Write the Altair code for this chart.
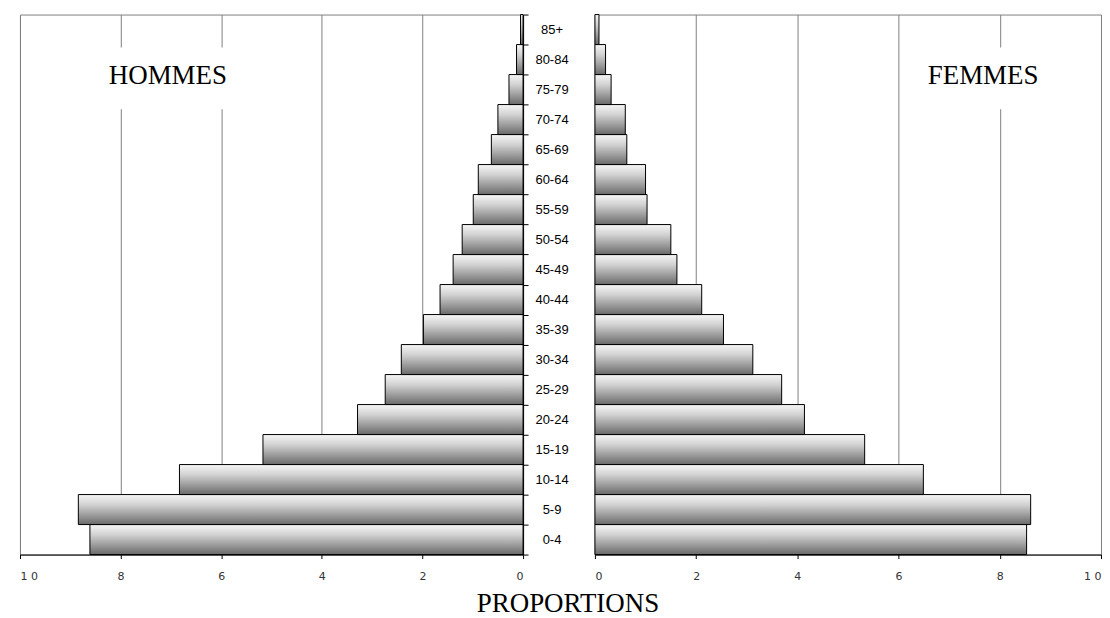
import altair as alt
import pandas as pd

ages = ["0-4", "5-9", "10-14", "15-19", "20-24", "25-29", "30-34", "35-39", "40-44",
        "45-49", "50-54", "55-59", "60-64", "65-69", "70-74", "75-79", "80-84", "85+"]
hommes = [8.61, 8.84, 6.83, 5.17, 3.29, 2.74, 2.42, 1.98, 1.65,
          1.39, 1.21, 0.99, 0.89, 0.63, 0.50, 0.28, 0.13, 0.05]
femmes = [8.53, 8.61, 6.49, 5.33, 4.14, 3.69, 3.12, 2.54, 2.11,
          1.62, 1.50, 1.03, 1.00, 0.63, 0.60, 0.32, 0.21, 0.08]
ticks = [0, 2, 4, 6, 8, 10]

df = pd.DataFrame({"age": ages, "hommes": hommes, "femmes": femmes})
order = ages[::-1]

grad = alt.Gradient(
    gradient="linear",
    stops=[alt.GradientStop(color="#f7f7f7", offset=0),
           alt.GradientStop(color="#d0d0d0", offset=0.35),
           alt.GradientStop(color="#6a6a6a", offset=1)],
    x1=0, x2=0, y1=0, y2=1,
)

xaxis = dict(values=ticks, grid=True, gridColor="#808080", gridWidth=1,
             domainColor="black", tickColor="black", tickSize=4,
             labelColor="#333333", labelFont="DejaVu Sans", labelFontSize=11,
             labelPadding=12, title=None,
             labelExpr="datum.value == 10 ? '1 0' : datum.label")

yscale = alt.Scale(paddingInner=0, paddingOuter=0)

W_L, W_M, W_R, H = 504, 72, 507, 541

left_bars = alt.Chart(df).mark_bar(fill=grad, stroke="black", strokeWidth=1).encode(
    x=alt.X("hommes:Q", scale=alt.Scale(domain=[0, 10], reverse=True, nice=False),
            axis=alt.Axis(**xaxis)),
    y=alt.Y("age:N", sort=order, scale=yscale,
            axis=alt.Axis(orient="right", labels=False, ticks=True, tickSize=5,
                          tickColor="black", domainColor="black", title=None,
                          tickBand="extent", grid=False)),
)
lab_h = pd.DataFrame({"t": ["HOMMES"], "x": [7.06], "x1": [8.6], "x2": [5.75]})
left_box = alt.Chart(lab_h).mark_rect(fill="white", stroke=None).encode(
    x="x1:Q", x2="x2:Q", y=alt.value(33), y2=alt.value(95))
left_txt = alt.Chart(lab_h).mark_text(font="Liberation Serif", fontSize=27,
                                      baseline="alphabetic", align="center",
                                      color="black").encode(
    x="x:Q", y=alt.value(70), text="t:N")
left = alt.layer(left_bars, left_box, left_txt).properties(
    width=W_L, height=H, view=alt.ViewBackground(stroke="#808080"))

mid_txt = alt.Chart(df).mark_text(font="Liberation Sans", fontSize=13,
                                  align="center", baseline="middle",
                                  color="black").encode(
    y=alt.Y("age:N", sort=order, scale=yscale, axis=None),
    x=alt.value(29),
    text="age:N",
)
prop = pd.DataFrame({"t": ["PROPORTIONS"]})
mid_title = alt.Chart(prop).mark_text(font="Liberation Serif", fontSize=27,
                                      align="center", baseline="alphabetic",
                                      color="black").encode(
    x=alt.value(45), y=alt.value(599), text="t:N")
middle = alt.layer(mid_txt, mid_title).properties(
    width=W_M, height=H, view=alt.ViewBackground(stroke="transparent"))

right_bars = alt.Chart(df).mark_bar(fill=grad, stroke="black", strokeWidth=1).encode(
    x=alt.X("femmes:Q", scale=alt.Scale(domain=[0, 10], nice=False),
            axis=alt.Axis(**xaxis)),
    y=alt.Y("age:N", sort=order, scale=yscale,
            axis=alt.Axis(orient="left", labels=False, ticks=False,
                          domainColor="black", title=None, grid=False)),
)
lab_f = pd.DataFrame({"t": ["FEMMES"], "x": [7.67], "x1": [6.4], "x2": [8.95]})
right_box = alt.Chart(lab_f).mark_rect(fill="white", stroke=None).encode(
    x="x1:Q", x2="x2:Q", y=alt.value(33), y2=alt.value(95))
right_txt = alt.Chart(lab_f).mark_text(font="Liberation Serif", fontSize=27,
                                       baseline="alphabetic", align="center",
                                       color="black").encode(
    x="x:Q", y=alt.value(70), text="t:N")
right = alt.layer(right_bars, right_box, right_txt).properties(
    width=W_R, height=H, view=alt.ViewBackground(stroke="#808080"))

chart = alt.hconcat(left, middle, right, spacing=0, bounds="flush").properties(
    padding={"left": 11, "top": 5, "right": 0, "bottom": 0},
    background="white",
).configure_view(strokeWidth=1)

chart.save("out.html", embed_options={"renderer": "svg", "actions": False})
